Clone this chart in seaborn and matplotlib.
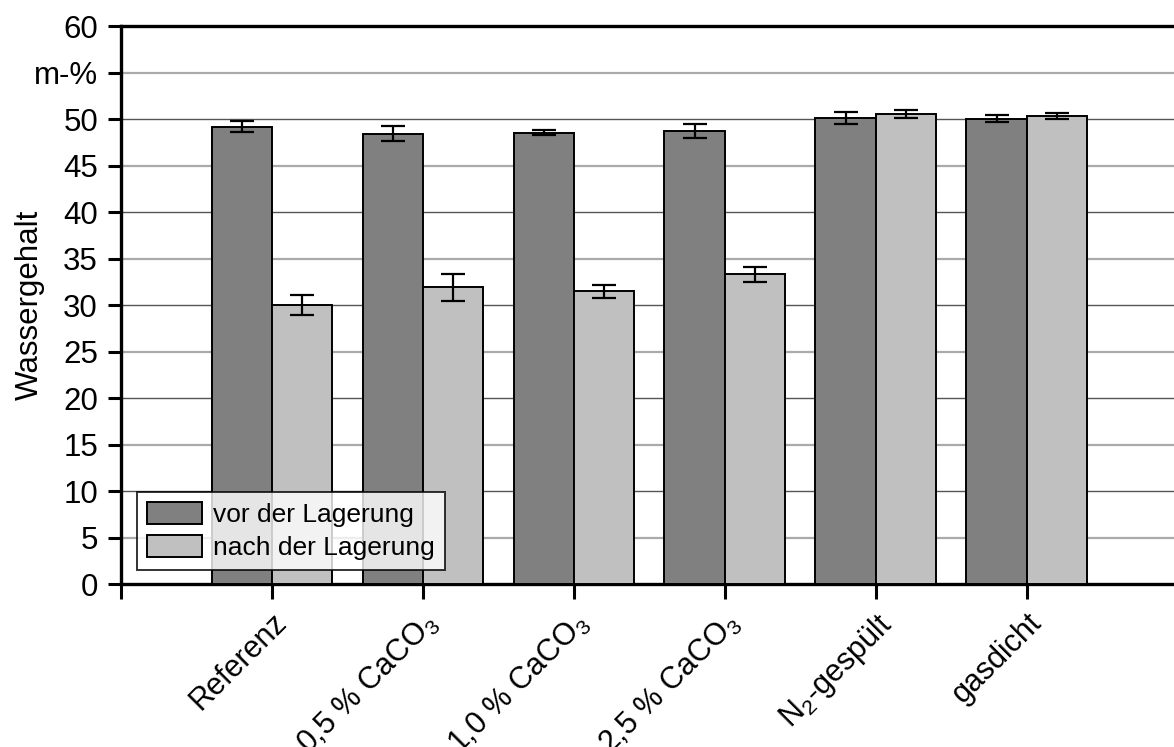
import matplotlib
matplotlib.use("Agg")
import matplotlib.pyplot as plt
import seaborn as sns
import pandas as pd
import numpy as np

categories = ["Referenz", "0,5 % CaCO$_3$", "1,0 % CaCO$_3$", "2,5 % CaCO$_3$", "N$_2$-gespült", "gasdicht"]
series = ["vor der Lagerung", "nach der Lagerung"]
vor = [49.2, 48.45, 48.55, 48.7, 50.1, 50.05]
vor_err = [0.6, 0.85, 0.25, 0.75, 0.65, 0.37]
nach = [30.0, 31.9, 31.5, 33.3, 50.55, 50.3]
nach_err = [1.05, 1.5, 0.7, 0.8, 0.43, 0.33]
yticks = [0, 5, 10, 15, 20, 25, 30, 35, 40, 45, 50, 55, 60]
ytick_labels = ["0", "5", "10", "15", "20", "25", "30", "35", "40", "45", "50", "m-%", "60"]

sns.set_theme(style="white")
plt.rcParams["font.family"] = ["Liberation Sans", "DejaVu Sans"]
plt.rcParams["mathtext.fontset"] = "custom"
plt.rcParams["mathtext.rm"] = "Liberation Sans"
plt.rcParams["mathtext.it"] = "Liberation Sans"
for k in ["text.color", "axes.labelcolor", "xtick.color", "ytick.color", "xtick.labelcolor", "ytick.labelcolor"]:
    plt.rcParams[k] = "black"

df = pd.DataFrame({
    "cat": categories * 2,
    "serie": [series[0]] * len(categories) + [series[1]] * len(categories),
    "val": vor + nach,
})

fig = plt.figure(figsize=(11.74, 7.47), dpi=100)
ax = fig.add_axes([0.103, 0.218, 0.9003, 0.747])

sns.barplot(data=df, x="cat", y="val", hue="serie", order=categories, hue_order=series,
            palette=["#808080", "#c0c0c0"], edgecolor="black", linewidth=1.4,
            width=0.8, errorbar=None, ax=ax, zorder=3, saturation=1)

# error bars at bar centres
errs = vor_err + nach_err
vals = vor + nach
bars = [p for p in ax.patches if p.get_height() > 0][:len(vals)]
for p, v, e in zip(bars, vals, errs):
    xc = p.get_x() + p.get_width() / 2
    ax.errorbar(xc, v, yerr=e, color="black", capsize=8.5, capthick=1.6,
                elinewidth=1.6, zorder=4)

ax.set_ylim(0, 60)
ax.set_xlim(-1, 6)
ax.set_yticks(yticks)
ax.set_yticklabels(ytick_labels, fontsize=22.5, color="black")
ax.set_xticks(list(range(-1, len(categories))))
ax.set_xticklabels([""] + categories, fontsize=22, rotation=45, ha="right",
                   rotation_mode="anchor", color="black")
ax.tick_params(axis="x", which="major", length=11, width=2.2, direction="out", bottom=True, pad=6,
               color="black")
ax.tick_params(axis="y", which="major", length=9.5, width=2.2, direction="out", left=True, pad=7,
               color="black")

for y in yticks[1:-1]:
    col = "#555555" if y % 10 == 0 else "#aaaaaa"
    lw = 1.0 if y % 10 == 0 else 1.6
    ax.axhline(y, color=col, linewidth=lw, zorder=1)

for s in ["left", "bottom", "top"]:
    ax.spines[s].set_color("black")
    ax.spines[s].set_linewidth(2.4)
ax.spines["right"].set_visible(False)

ax.set_xlabel("")
ax.set_ylabel("Wassergehalt", fontsize=22.5, color="black")
ax.yaxis.set_label_coords(-0.072, 0.5)

leg = ax.legend(loc="lower left", bbox_to_anchor=(0.015, 0.025), fontsize=19,
                frameon=True, fancybox=False, edgecolor="black", handlelength=2.1,
                handleheight=0.9, borderpad=0.38, labelspacing=0.3, handletextpad=0.4,
                borderaxespad=0)
leg.get_frame().set_linewidth(1.4)
for t in leg.get_texts():
    t.set_color("black")
leg.set_zorder(5)

fig.savefig("out.png", dpi=100)
